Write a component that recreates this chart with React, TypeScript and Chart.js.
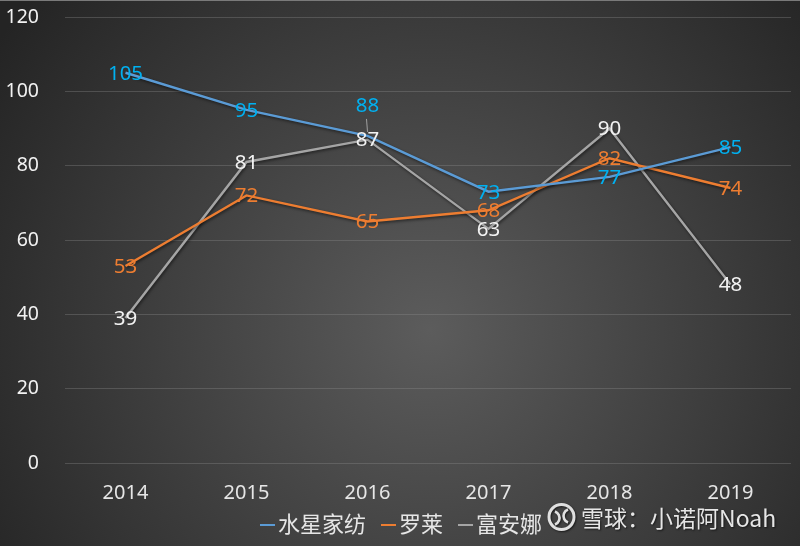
import { useEffect, useRef } from 'react';
import { Chart, registerables } from 'chart.js';

Chart.register(...registerables);

const years = ['2014', '2015', '2016', '2017', '2018', '2019'];
const shuixing = [105, 95, 88, 73, 77, 85];
const luolai = [53, 72, 65, 68, 82, 74];
const fuanna = [39, 81, 87, 63, 90, 48];
const seriesNames = ['水星家纺', '罗莱', '富安娜'];
const watermark = '雪球：小诺阿Noah';

const FONT = "'Noto Sans', 'Noto Sans CJK SC', sans-serif";
const CJK = "'Noto Sans CJK SC', 'Noto Sans', sans-serif";

const lineColors = ['#5B9BD5', '#ED7D31', '#A5A5A5'];
const labelColors = ['#00B0F0', '#ED7D31', '#F2F2F2'];

const bgPlugin = {
  id: 'bg',
  beforeDraw(chart: any) {
    const { ctx, width, height } = chart;
    ctx.save();
    const g = ctx.createRadialGradient(430, 330, 0, 430, 330, 520);
    g.addColorStop(0, '#5c5c5c');
    g.addColorStop(1, '#242424');
    ctx.fillStyle = g;
    ctx.fillRect(0, 0, width, height);
    ctx.fillStyle = '#7a7a7a';
    ctx.fillRect(0, 0, width, 1);
    ctx.restore();
  },
};

const shadowPlugin = {
  id: 'lineShadow',
  beforeDatasetsDraw(chart: any) {
    const ctx = chart.ctx;
    ctx.save();
    ctx.shadowColor = 'rgba(0,0,0,0.55)';
    ctx.shadowBlur = 3;
    ctx.shadowOffsetX = 1;
    ctx.shadowOffsetY = 1.5;
  },
  afterDatasetsDraw(chart: any) {
    chart.ctx.restore();
  },
};

const labelPlugin = {
  id: 'valueLabels',
  afterDatasetsDraw(chart: any, _args: any, opts: any) {
    const ctx = chart.ctx;
    ctx.save();
    ctx.font = `20.5px ${FONT}`;
    ctx.textAlign = 'center';
    ctx.textBaseline = 'middle';
    chart.data.datasets.forEach((ds: any, di: number) => {
      const meta = chart.getDatasetMeta(di);
      meta.data.forEach((pt: any, i: number) => {
        const key = `${di}-${i}`;
        const off = (opts.offsets && opts.offsets[key]) || 0;
        const x = pt.x;
        const y = pt.y + 1 + off;
        if (off) {
          ctx.strokeStyle = '#a0a0a0';
          ctx.lineWidth = 1;
          ctx.beginPath();
          ctx.moveTo(x - 1, y + 13);
          ctx.lineTo(x, pt.y - 4);
          ctx.stroke();
        }
        ctx.fillStyle = labelColors[di];
        ctx.fillText(String(ds.data[i]), x, y);
      });
    });
    ctx.restore();
  },
};

const legendPlugin = {
  id: 'customLegend',
  afterDraw(chart: any) {
    const ctx = chart.ctx;
    ctx.save();
    ctx.font = `22px ${CJK}`;
    ctx.textBaseline = 'middle';
    const lineW = 15;
    const gapAfterLine = 3;
    const itemGap = 15;
    const widths = chart.data.datasets.map((ds: any) => lineW + gapAfterLine + ctx.measureText(ds.label).width);
    const total = widths.reduce((a: number, b: number) => a + b, 0) + itemGap * (widths.length - 1);
    let x = 401 - total / 2;
    const y = 524;
    chart.data.datasets.forEach((ds: any, i: number) => {
      ctx.strokeStyle = lineColors[i];
      ctx.lineWidth = 2;
      ctx.beginPath();
      ctx.moveTo(x, y + 1);
      ctx.lineTo(x + lineW, y + 1);
      ctx.stroke();
      ctx.fillStyle = '#e6e6e6';
      ctx.fillText(ds.label, x + lineW + gapAfterLine, y);
      x += widths[i] + itemGap;
    });

    // watermark
    const cx = 561.5, cy = 517, r = 12.5;
    ctx.shadowColor = 'rgba(0,0,0,0.6)';
    ctx.shadowBlur = 2;
    ctx.shadowOffsetX = 1;
    ctx.shadowOffsetY = 1;
    ctx.strokeStyle = '#e0e0e0';
    ctx.lineWidth = 3;
    ctx.beginPath();
    ctx.arc(cx, cy, r, 0, Math.PI * 2);
    ctx.stroke();
    ctx.lineWidth = 2.6;
    ctx.beginPath();
    ctx.arc(cx - 9, cy + 1, 7, -Math.PI / 2.6, Math.PI / 2.6);
    ctx.stroke();
    ctx.beginPath();
    ctx.arc(cx + 9, cy - 1, 7, Math.PI - Math.PI / 2.6, Math.PI + Math.PI / 2.6);
    ctx.stroke();
    ctx.fillStyle = '#e6e6e6';
    ctx.font = `23px ${CJK}`;
    ctx.textAlign = 'left';
    ctx.fillText(watermark, 581, 518);
    ctx.restore();
  },
};

export default function App() {
  const ref = useRef<HTMLCanvasElement>(null);

  useEffect(() => {
    document.body.style.margin = '0';
    const ctx = ref.current!.getContext('2d')!;
    const series = [shuixing, luolai, fuanna];
    const chart = new Chart(ctx, {
      type: 'line',
      data: {
        labels: years,
        datasets: series.map((d, i) => ({
          label: seriesNames[i],
          data: d,
          borderColor: lineColors[i],
          backgroundColor: lineColors[i],
          borderWidth: 2.4,
          pointRadius: 0,
          tension: 0,
          fill: false,
        })),
      },
      options: {
        animation: false,
        responsive: false,
        devicePixelRatio: 1,
        layout: { padding: { top: 17, right: 9, left: 0, bottom: 0 } },
        plugins: {
          legend: { display: false },
          tooltip: { enabled: false },
          valueLabels: { offsets: { '0-2': -31 } },
        } as any,
        scales: {
          x: {
            offset: true,
            grid: { display: false, drawTicks: false },
            border: { display: false },
            ticks: { color: '#e6e6e6', font: { size: 20, family: FONT }, padding: 18 },
            afterFit(scale: any) {
              scale.height = 83;
              scale.paddingLeft = 0;
              scale.paddingRight = 0;
            },
          },
          y: {
            min: 0,
            max: 120,
            ticks: { stepSize: 20, color: '#f2f2f2', font: { size: 19.5, family: FONT }, padding: 26 },
            grid: { color: 'rgba(140,140,140,0.35)', lineWidth: 1, drawTicks: false },
            border: { display: false },
            afterFit(scale: any) {
              scale.width = 65;
              scale.paddingTop = 0;
              scale.paddingBottom = 0;
            },
          },
        },
      },
      plugins: [bgPlugin, shadowPlugin, labelPlugin, legendPlugin],
    });
    return () => chart.destroy();
  }, []);

  return (
    <div style={{ position: 'absolute', left: 0, top: 0, width: 800, height: 546 }}>
      <canvas ref={ref} width={800} height={546} style={{ width: 800, height: 546 }} />
    </div>
  );
}
